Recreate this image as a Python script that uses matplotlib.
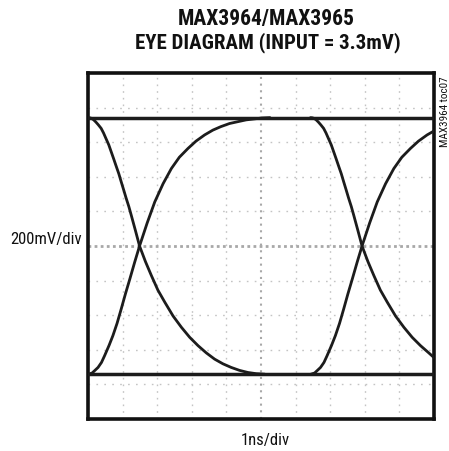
import matplotlib
matplotlib.use("Agg")
import matplotlib.pyplot as plt

# ---- data (time in ns, voltage in mV) ----
rail_high = 742
rail_low = -742

rise1_t = [0.0, 0.12, 0.20, 0.29, 0.39, 0.48, 0.61, 0.72, 0.84, 0.96, 1.08, 1.21, 1.35, 1.49,
           1.71, 1.93, 2.17, 2.41, 2.64, 2.89, 3.12, 3.37, 3.61, 3.84, 4.09, 4.34, 4.57, 4.82, 5.03, 5.26]
rise1_v = [-742, -734, -719, -702, -673, -634, -574, -518, -447, -364, -278, -190, -93, 0,
           133, 255, 360, 448, 513, 564, 606, 642, 670, 690, 708, 719, 729, 735, 740, 742]

fall1_t = [0.0, 0.05, 0.10, 0.16, 0.23, 0.30, 0.38, 0.45, 0.52, 0.60, 0.67, 0.74, 0.81, 0.89, 0.96,
           1.03, 1.10, 1.18, 1.25, 1.37, 1.49, 1.66, 1.83, 2.02, 2.22, 2.46, 2.70, 2.94, 3.18, 3.42,
           3.66, 3.90, 4.14, 4.38, 4.62, 4.86, 5.11]
fall1_v = [742, 741, 738, 730, 716, 700, 680, 653, 621, 585, 545, 505, 464, 418, 371,
           325, 278, 228, 178, 90, 0, -90, -170, -255, -325, -405, -470, -528, -576, -618,
           -654, -681, -702, -719, -731, -738, -741]

rise2_t = [6.43, 6.55, 6.63, 6.72, 6.82, 6.91, 7.04, 7.15, 7.27, 7.39, 7.51, 7.64, 7.78, 7.92,
           8.14, 8.36, 8.60, 8.84, 9.07, 9.32, 9.55, 9.80, 10.0]
rise2_v = [-742, -734, -719, -702, -673, -634, -574, -518, -447, -364, -278, -190, -93, 0,
           133, 255, 360, 448, 513, 564, 606, 642, 665]

fall2_t = [6.43, 6.48, 6.53, 6.59, 6.66, 6.73, 6.81, 6.88, 6.95, 7.03, 7.10, 7.17, 7.24, 7.32, 7.39,
           7.46, 7.53, 7.61, 7.68, 7.80, 7.92, 8.09, 8.26, 8.45, 8.65, 8.89, 9.13, 9.37, 9.61, 9.85, 10.0]
fall2_v = [742, 741, 738, 730, 716, 700, 680, 653, 621, 585, 545, 505, 464, 418, 371,
           325, 278, 228, 178, 90, 0, -90, -170, -255, -325, -405, -470, -528, -576, -618, -645]

x_div = 1.0     # ns per division
y_div = 200.0   # mV per division

fig = plt.figure(figsize=(4.49, 4.51), dpi=100)
ax = fig.add_axes([88/449, 1-419/451, 346/449, 346/451])
ax.set_xlim(0, 10 * x_div)
ax.set_ylim(-5 * y_div, 5 * y_div)

grid_c = "#c4c4c4"
for i in range(1, 10):
    x = i * x_div
    if i == 5:
        ax.axvline(x, color="#a8a8a8", lw=1.5, ls=(0, (1, 2.2)), zorder=1)
    else:
        ax.axvline(x, color=grid_c, lw=1.0, ls=(0, (1.2, 3.6)), zorder=1)
for i in range(-4, 5):
    y = i * y_div
    if i == 0:
        ax.axhline(y, color="#a8a8a8", lw=2.0, ls=(0, (1, 1.2)), zorder=1)
    else:
        ax.axhline(y, color=grid_c, lw=1.0, ls=(0, (1.2, 4.5)), zorder=1)

trace_c = "#1c1c1c"
ax.plot([0, 10 * x_div], [rail_high, rail_high], color=trace_c, lw=2.5, zorder=3)
ax.plot([0, 10 * x_div], [rail_low, rail_low], color=trace_c, lw=2.5, zorder=3)
for t, v in [(rise1_t, rise1_v), (fall1_t, fall1_v), (rise2_t, rise2_v), (fall2_t, fall2_v)]:
    ax.plot(t, v, color=trace_c, lw=2.0, zorder=3, solid_capstyle="round", solid_joinstyle="round")

ax.set_xticks([])
ax.set_yticks([])
for s in ax.spines.values():
    s.set_linewidth(2.6)
    s.set_color("#111111")

cond = ["Roboto Condensed", "DejaVu Sans"]
fig.text(266/449, 1-19/451, "MAX3964/MAX3965", ha="center", va="center",
         fontsize=15.5, fontweight="bold", family=cond, color="#111111")
fig.text(268/449, 1-43/451, "EYE DIAGRAM (INPUT = 3.3mV)", ha="center", va="center",
         fontsize=15, fontweight="bold", family=cond, color="#111111")
fig.text(46/449, 1-240/451, "200mV/div", ha="center", va="center",
         fontsize=12, family=cond, color="#111111")
fig.text(265/449, 1-440/451, "1ns/div", ha="center", va="center",
         fontsize=12, family=cond, color="#111111")
fig.text(445/449, 1-112/451, "MAX3964 toc07", ha="center", va="center",
         rotation=90, fontsize=8, family=cond, color="#111111")

fig.savefig("out.png", dpi=100)
